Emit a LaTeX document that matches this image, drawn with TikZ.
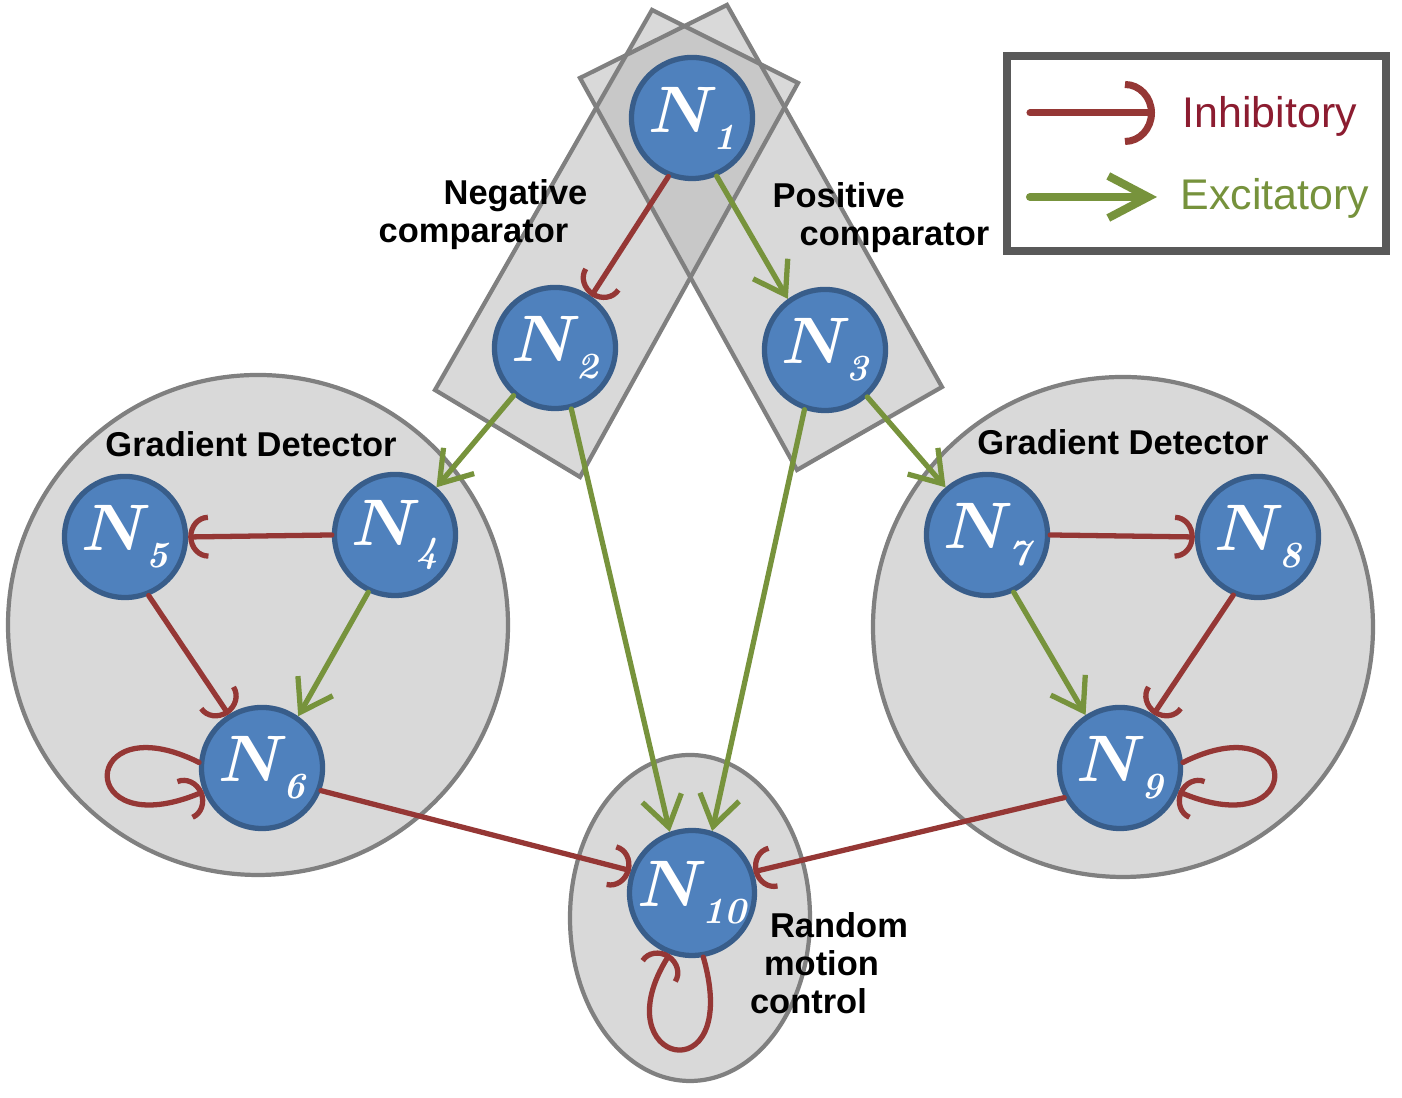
\documentclass[tikz,border=0pt]{standalone}
\usepackage{fix-cm}
\usepackage{amsmath}
\usepackage[no-math]{fontspec}
\newfontfamily\arialfont{Liberation Sans}
\usetikzlibrary{arrows.meta}
\definecolor{neublue}{HTML}{4F81BD}
\definecolor{neuedge}{HTML}{385D8A}
\definecolor{inhred}{HTML}{953735}
\definecolor{excgreen}{HTML}{77933C}
\definecolor{regiongray}{HTML}{D9D9D9}
\definecolor{overlapgray}{HTML}{C8C8C8}
\definecolor{regionedge}{HTML}{808080}
\definecolor{legendedge}{HTML}{595959}
\definecolor{inhtext}{HTML}{8C1C30}
\definecolor{exctext}{HTML}{76923C}
\newcommand{\neulabel}[1]{{\boldmath$N$}\kern-1.5pt\raisebox{-0.17cm}{\fontsize{10.5}{10}\selectfont\bfseries\itshape #1}}
\begin{document}
\begin{tikzpicture}[x=0.01cm, y=0.01cm,
  neuron/.style={circle,fill=neublue,draw=neuedge,line width=1.5pt,minimum size=1.21cm,inner sep=0pt,text=white,font=\fontsize{18.7}{20}\selectfont},
  region/.style={fill=regiongray,draw=regionedge,line width=1.2pt},
  inhib/.style={draw=inhred,line width=1.5pt,line cap=round,-{Arc Barb[arc=180,length=0.2cm,width=0.44cm]}},
  excit/.style={draw=excgreen,line width=1.5pt,line cap=round,-{Straight Barb[length=0.3cm,width=0.4cm]}},
  lbl/.style={font=\arialfont\bfseries\fontsize{9.8}{10.8}\selectfont,inner sep=0pt}]
\useasboundingbox (0,0) rectangle (1402,1098);
% regions
\path[region] (258,473) circle[radius=250];
\path[region] (1123,471) circle[radius=250];
\path[region] (690,180) ellipse[x radius=120,y radius=163];
\fill[regiongray] (435,708) -- (580,621) -- (798,1015) -- (652,1088) -- cycle;
\fill[regiongray] (580,1020) -- (727,1093) -- (942,711) -- (797,628) -- cycle;
\begin{scope}
\clip (435,708) -- (580,621) -- (798,1015) -- (652,1088) -- cycle;
\fill[overlapgray] (580,1020) -- (727,1093) -- (942,711) -- (797,628) -- cycle;
\end{scope}
\draw[regionedge,line width=1.2pt] (435,708) -- (580,621) -- (798,1015) -- (652,1088) -- cycle;
\draw[regionedge,line width=1.2pt] (580,1020) -- (727,1093) -- (942,711) -- (797,628) -- cycle;
% labels
\node[lbl,align=left] (neglbl) at (483,883) {\hspace*{0.65cm}Negative\\comparator};
\node[lbl,align=left] (poslbl) at (881,880) {Positive\\\hspace*{0.27cm}comparator};
\node[lbl] (gdleft) at (251,654) {Gradient Detector};
\node[lbl] (gdright) at (1123,656) {Gradient Detector};
\node[lbl,align=left] (rndlbl) at (829,135) {\hspace*{0.2cm}Random\\\hspace*{0.14cm}motion\\control};
% neurons
\node[neuron] (n1) at (692,980) {\neulabel{1}};
\node[neuron] (n2) at (555,750) {\neulabel{2}};
\node[neuron] (n3) at (825,748) {\neulabel{3}};
\node[neuron] (n4) at (395,563) {\neulabel{4}};
\node[neuron] (n5) at (125,561) {\neulabel{5}};
\node[neuron] (n6) at (262,330) {\neulabel{6}};
\node[neuron] (n7) at (987,563) {\neulabel{7}};
\node[neuron] (n8) at (1258,561) {\neulabel{8}};
\node[neuron] (n9) at (1120,330) {\neulabel{9}};
\node[neuron] (n10) at (692,205) {\neulabel{10}};
% synapses
\draw[inhib] (n1.248) -- (n2.55);
\draw[excit] (n1.293) -- (n3.126);
\draw[excit] (n2.229) -- (n4.49);
\draw[excit] (n2.285) -- (n10.110);
\draw[excit] (n3.251) -- (n10.72);
\draw[excit] (n3.312) -- (n7.131);
\draw[inhib] (n4.west) -- (n5.east);
\draw[excit] (n4.245) -- (n6.55);
\draw[inhib] (n5.292) -- (n6.122);
\draw[inhib] (n6.175) .. controls +(-120,60) and +(-130,-55) .. (n6.202);
\draw[inhib] (n7.east) -- (n8.west);
\draw[excit] (n7.295) -- (n9.123);
\draw[inhib] (n8.247) -- (n9.58);
\draw[inhib] (n9.5) .. controls +(120,60) and +(130,-55) .. (n9.-22);
\draw[inhib] (n6.339) -- (n10.160);
\draw[inhib] (n9.208) -- (n10.19);
\draw[inhib] (n10.280) .. controls +(40,-140) and +(-70,-110) .. (n10.250);
% legend
\draw[legendedge,line width=2.3pt,fill=white] (1007,1042) rectangle (1386,847);
\coordinate (inhA) at (1030,985);
\coordinate (inhB) at (1155,985);
\coordinate (excA) at (1030,901);
\coordinate (excB) at (1157,901);
\draw[inhib,line width=2pt,-{Arc Barb[arc=180,length=0.3cm,width=0.64cm]}] (inhA) -- (inhB);
\draw[excit,line width=2.3pt,-{Straight Barb[length=0.4cm,width=0.42cm]}] (excA) -- (excB);
\node[anchor=base west,inner sep=0pt,text=inhtext,font=\arialfont\fontsize{12.2}{14}\selectfont] (inhtxt) at (1182,970) {Inhibitory};
\node[anchor=base west,inner sep=0pt,text=exctext,font=\arialfont\fontsize{12.2}{14}\selectfont] (exctxt) at (1180,888) {Excitatory};
\end{tikzpicture}
\end{document}
